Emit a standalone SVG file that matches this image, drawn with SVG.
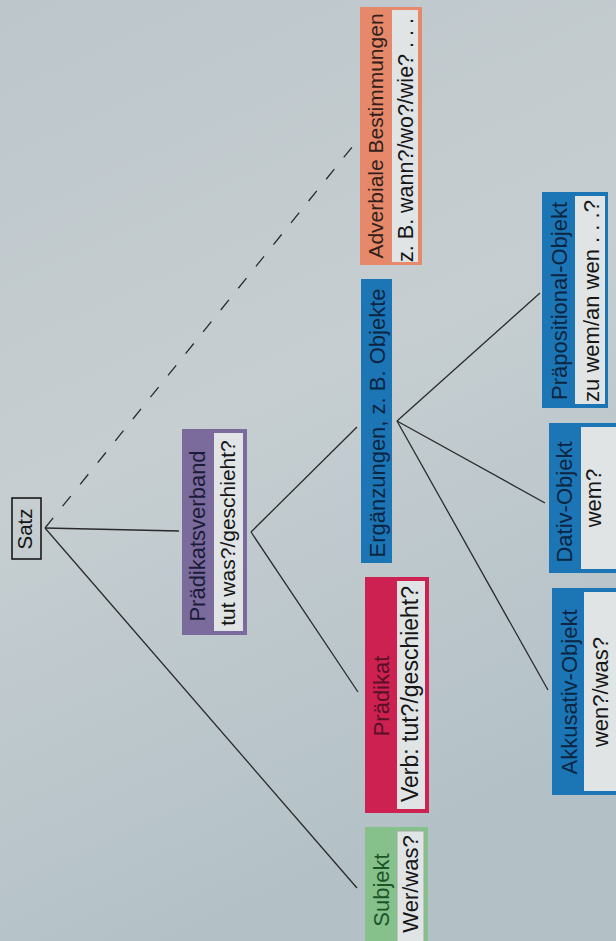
<svg xmlns="http://www.w3.org/2000/svg" width="616" height="941" viewBox="0 0 616 941">
<defs>
<linearGradient id="bg" x1="0" y1="0" x2="0.3" y2="1">
<stop offset="0" stop-color="#bdc6cb"/>
<stop offset="0.5" stop-color="#c6ced1"/>
<stop offset="1" stop-color="#b3c1c7"/>
</linearGradient>
<style>
.t{font-family:"Liberation Sans",Arial,sans-serif;font-size:22px;text-anchor:middle}
.w{fill:#e0e4e5}
.k{fill:#161616}
.ln{stroke:#2a2a2a;stroke-width:1.3;fill:none}
</style>
</defs>
<rect width="616" height="941" fill="url(#bg)"/>

<g id="connectors">
<line class="ln" x1="45" y1="528" x2="179" y2="531"/>
<line class="ln" x1="45" y1="528" x2="357" y2="888"/>
<line class="ln" x1="45" y1="528" x2="357" y2="141" stroke-dasharray="13 15"/>
<line class="ln" x1="251" y1="532" x2="357" y2="427"/>
<line class="ln" x1="251" y1="532" x2="358" y2="692"/>
<line class="ln" x1="397" y1="421" x2="540" y2="293"/>
<line class="ln" x1="397" y1="421" x2="545" y2="503"/>
<line class="ln" x1="397" y1="421" x2="548" y2="690"/>
</g>

<g id="satz">
<rect x="12" y="498" width="29" height="61" fill="none" stroke="#1a1a1a" stroke-width="1.6"/>
<text class="t k" style="font-size:20.5px" transform="translate(25,529) rotate(-90)" dy="0.35em">Satz</text>
</g>

<g id="praedikatsverband">
<rect x="182" y="429" width="65" height="206" fill="#7b6b9c"/>
<rect class="w" x="214" y="433" width="29" height="198"/>
<text class="t" fill="#1b1c38" transform="translate(197.5,536) rotate(-90)" dy="0.35em">Prädikatsverband</text>
<text class="t k" style="font-size:21px" transform="translate(228,533) rotate(-90)" dy="0.35em">tut was?/geschieht?</text>
</g>

<g id="subjekt">
<rect x="365" y="827" width="63" height="130" fill="#86c08b"/>
<rect class="w" x="397" y="831" width="27" height="126" stroke="#9aab9c" stroke-width="1"/>
<text class="t" fill="#1c5528" transform="translate(381,890) rotate(-90)" dy="0.35em">Subjekt</text>
<text class="t k" transform="translate(410,884) rotate(-90)" dy="0.35em">Wer/was?</text>
</g>

<g id="praedikat">
<rect x="365" y="577" width="64" height="236" fill="#cd2152"/>
<rect class="w" x="397" y="581" width="28" height="228"/>
<text class="t" fill="#5a1026" transform="translate(381,696) rotate(-90)" dy="0.35em">Prädikat</text>
<text class="t k" style="font-size:23px" transform="translate(410,694) rotate(-90)" dy="0.35em">Verb: tut?/geschieht?</text>
</g>

<g id="ergaenzungen">
<rect x="361" y="279" width="31" height="284" fill="#1c76b5"/>
<text class="t" fill="#0b2542" transform="translate(377.5,423) rotate(-90)" dy="0.35em">Ergänzungen, z. B. Objekte</text>
</g>

<g id="adverbiale">
<rect x="360" y="7" width="62" height="258" fill="#e5896a"/>
<rect class="w" x="392" y="10" width="26" height="252"/>
<text class="t" fill="#33201a" style="font-size:21px" transform="translate(376,136) rotate(-90)" dy="0.35em">Adverbiale Bestimmungen</text>
<text class="t k" style="font-size:21.5px" transform="translate(405.5,140) rotate(-90)" dy="0.35em">z. B. wann?/wo?/wie? . . .</text>
</g>

<g id="praepositional">
<rect x="542" y="192" width="66" height="216" fill="#1c76b5"/>
<rect class="w" x="575" y="196" width="30" height="208"/>
<text class="t" fill="#0b2542" transform="translate(559,301) rotate(-90)" dy="0.35em">Präpositional-Objekt</text>
<text class="t k" transform="translate(591,301) rotate(-90)" dy="0.35em">zu wem/an wen . . .?</text>
</g>

<g id="dativ">
<rect x="549" y="423" width="72" height="150" fill="#1c76b5"/>
<rect class="w" x="581" y="427" width="40" height="142"/>
<text class="t" fill="#0b2542" transform="translate(564.5,502) rotate(-90)" dy="0.35em">Dativ-Objekt</text>
<text class="t k" transform="translate(593,498) rotate(-90)" dy="0.35em">wem?</text>
</g>

<g id="akkusativ">
<rect x="552" y="588" width="70" height="207" fill="#1c76b5"/>
<rect class="w" x="584" y="592" width="38" height="199"/>
<text class="t" fill="#0b2542" transform="translate(569,692) rotate(-90)" dy="0.35em">Akkusativ-Objekt</text>
<text class="t k" transform="translate(600,692) rotate(-90)" dy="0.35em">wen?/was?</text>
</g>
</svg>
